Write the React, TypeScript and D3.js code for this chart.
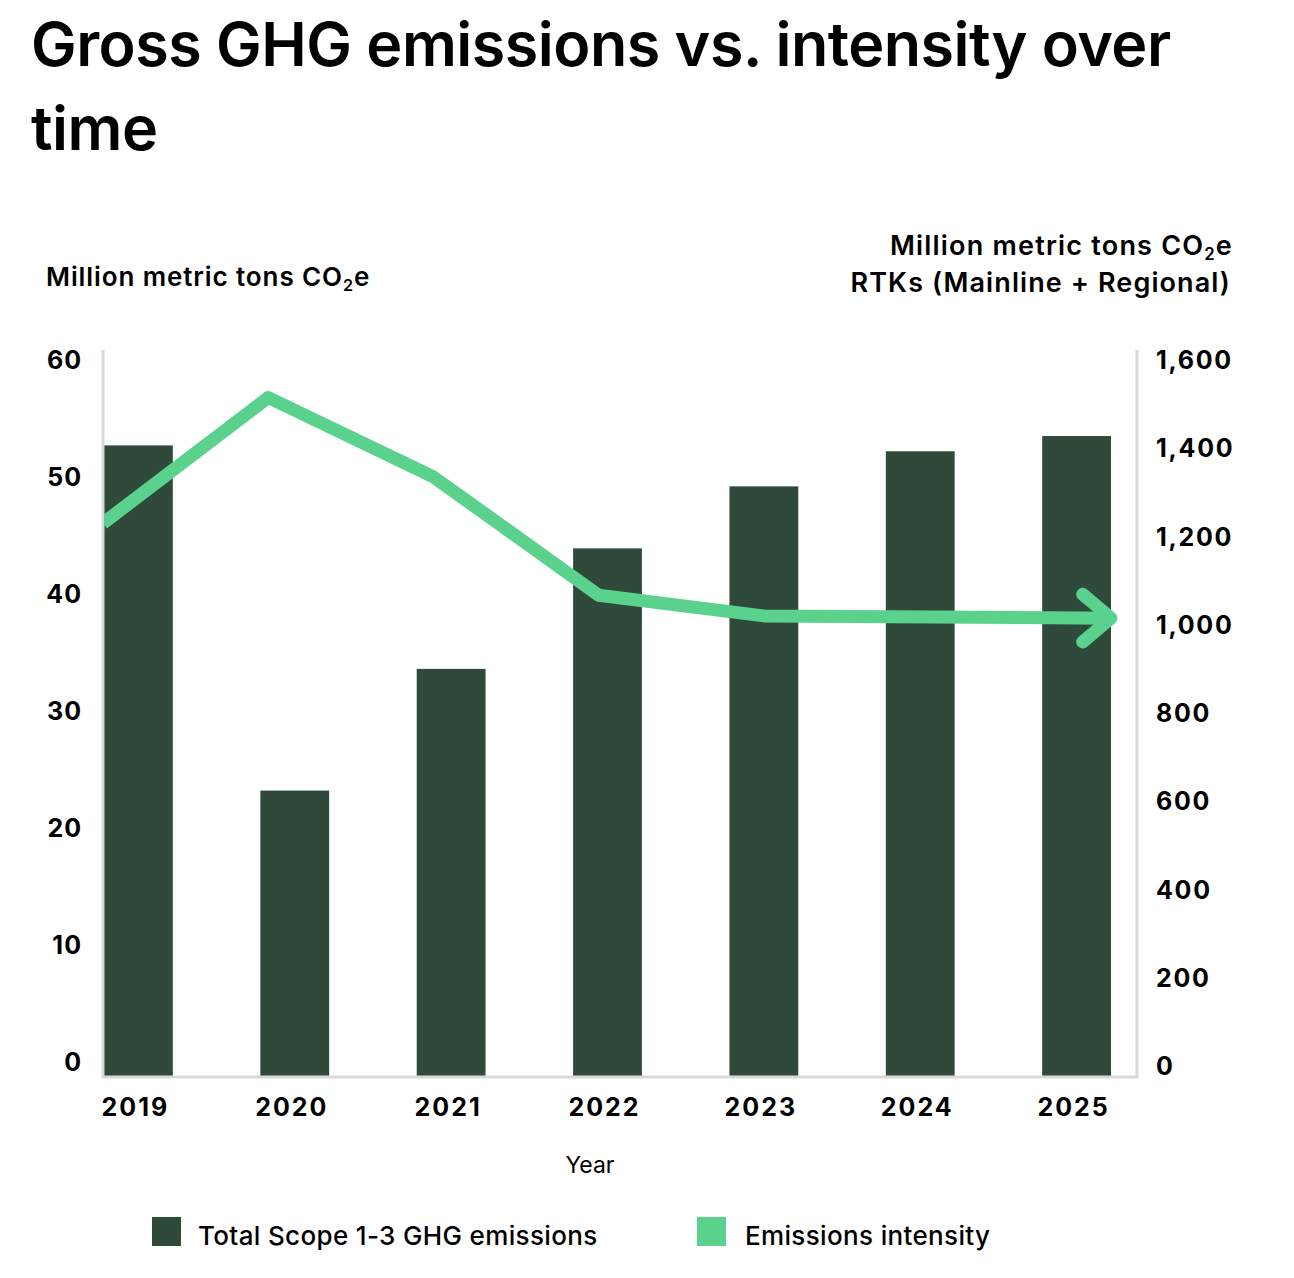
import React from 'react';
import * as d3 from 'd3';

// values
const years = ['2019', '2020', '2021', '2022', '2023', '2024', '2025'];
const grossEmissions = [52.7, 23.2, 33.6, 43.9, 49.2, 52.2, 53.5]; // million metric tons CO2e
const intensityYears = [2019, 2020, 2021, 2022, 2023];
const intensity = [1230, 1515, 1335, 1067, 1020]; // per RTK
const intensityTarget = 1015; // arrow end, 2025
const leftTicks = [0, 10, 20, 30, 40, 50, 60];
const rightTicks = [0, 200, 400, 600, 800, 1000, 1200, 1400, 1600];
const legendItems = ['Total Scope 1-3 GHG emissions', 'Emissions intensity'];

const W = 1294;
const H = 1278;
const BAR = '#2f4a3a';
const LINE = '#5ad28d';
const AXIS = '#d9d9d5';
const FONT = 'Inter, "Noto Sans", sans-serif';

const plot = { left: 103, right: 1137, top: 350, bottom: 1077 };

const App = () => {
    const x = d3
        .scaleBand()
        .domain(years)
        .range([104, 1111])
        .paddingInner(0.56)
        .paddingOuter(0);
    const bw = x.bandwidth();

    const yLeft = d3.scaleLinear().domain([0, 60]).range([1062, 360]);
    const yRight = d3.scaleLinear().domain([0, 1600]).range([1066, 360]);

    // the intensity line runs from the left axis to the 2023 bar centre
    const xLine = d3
        .scaleLinear()
        .domain([2019, 2023])
        .range([plot.left, x('2023')! + bw / 2]);

    const pts: [number, number][] = intensityYears.map((yr, i) => [xLine(yr), yRight(intensity[i])]);
    const tip: [number, number] = [x('2025')! + bw, yRight(intensityTarget)];
    pts.push(tip);

    const line = d3.line<[number, number]>().x((d) => d[0]).y((d) => d[1]);

    // arrow head arms
    const armLen = 37;
    const ang = (40 * Math.PI) / 180;
    const head = d3.path();
    head.moveTo(tip[0] - armLen * Math.cos(ang), tip[1] - armLen * Math.sin(ang));
    head.lineTo(tip[0], tip[1]);
    head.lineTo(tip[0] - armLen * Math.cos(ang), tip[1] + armLen * Math.sin(ang));

    const sub = (
        <>
            <tspan fontSize="0.62em" dy="5">2</tspan>
            <tspan dy="-5">e</tspan>
        </>
    );

    return (
        <svg
            width={W}
            height={H}
            style={{ position: 'absolute', left: 0, top: 0, background: '#fff' }}
            fontFamily={FONT}
        >
            <defs>
                <clipPath id="plotClip">
                    <rect x={plot.left + 1} y={0} width={W - plot.left} height={H} />
                </clipPath>
            </defs>

            {/* title */}
            <text x={31} y={66} fontSize={61} fontWeight={600} letterSpacing={-0.5} fill="#000">
                Gross GHG emissions vs. intensity over
            </text>
            <text x={31} y={150} fontSize={61} fontWeight={600} letterSpacing={-0.5} fill="#000">
                time
            </text>

            {/* axis titles */}
            <text x={46} y={286} fontSize={26} fontWeight={600} letterSpacing={0.9}>
                <tspan>Million metric tons CO</tspan>
                {sub}
            </text>
            <text x={1233} y={255} fontSize={27} fontWeight={600} textAnchor="end" letterSpacing={1.2}>
                <tspan>Million metric tons CO</tspan>
                {sub}
            </text>
            <text x={1231} y={292} fontSize={27} fontWeight={600} textAnchor="end" letterSpacing={1.1}>
                RTKs (Mainline + Regional)
            </text>

            {/* bars */}
            {years.map((yr, i) => (
                <rect
                    key={yr}
                    x={x(yr)}
                    y={yLeft(grossEmissions[i])}
                    width={bw}
                    height={plot.bottom - yLeft(grossEmissions[i])}
                    fill={BAR}
                />
            ))}

            {/* axes */}
            <line x1={plot.left} x2={plot.left} y1={plot.top} y2={plot.bottom} stroke={AXIS} strokeWidth={3} />
            <line x1={plot.right} x2={plot.right} y1={plot.top} y2={plot.bottom} stroke={AXIS} strokeWidth={3} />
            <line x1={plot.left - 1.5} x2={plot.right + 1.5} y1={plot.bottom} y2={plot.bottom} stroke={AXIS} strokeWidth={3} />

            {/* intensity line */}
            <g clipPath="url(#plotClip)">
                <path
                    d={line(pts)!}
                    fill="none"
                    stroke={LINE}
                    strokeWidth={13}
                    strokeLinejoin="round"
                />
            </g>
            <path
                d={head.toString()}
                fill="none"
                stroke={LINE}
                strokeWidth={13}
                strokeLinecap="round"
                strokeLinejoin="round"
            />

            {/* left ticks */}
            {leftTicks.map((t) => (
                <text key={t} x={82} y={yLeft(t)} dy="0.36em" fontSize={25} fontWeight={700} textAnchor="end" letterSpacing={1}>
                    {t}
                </text>
            ))}

            {/* right ticks */}
            {rightTicks.map((t) => (
                <text key={t} x={1156} y={yRight(t)} dy="0.36em" fontSize={25} fontWeight={700} letterSpacing={1.7}>
                    {d3.format(',')(t)}
                </text>
            ))}

            {/* year labels */}
            {years.map((yr) => (
                <text key={yr} x={x(yr)! + bw / 2 - 3} y={1116} fontSize={25} fontWeight={700} textAnchor="middle" letterSpacing={2}>
                    {yr}
                </text>
            ))}
            <text x={590} y={1173} fontSize={23} textAnchor="middle">
                Year
            </text>

            {/* legend */}
            {legendItems.map((label, i) => {
                const lx = i === 0 ? 152 : 697;
                return (
                    <g key={label} transform={`translate(${lx},1217)`}>
                        <rect width={29} height={29} fill={i === 0 ? BAR : LINE} />
                        <text x={i === 0 ? 46 : 48} y={28} fontSize={26} fontWeight={500} letterSpacing={0.35}>
                            {label}
                        </text>
                    </g>
                );
            })}
        </svg>
    );
};

export default App;
